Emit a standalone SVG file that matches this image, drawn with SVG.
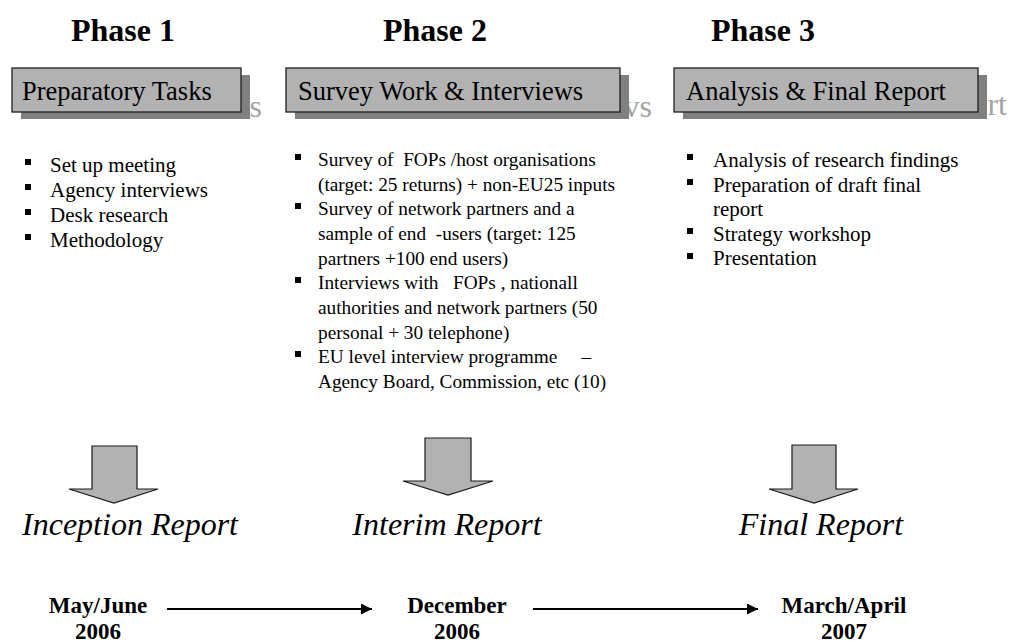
<svg xmlns="http://www.w3.org/2000/svg" width="1010" height="642" viewBox="0 0 1010 642">
  <style>
    text { font-family: "Liberation Serif", "Times New Roman", serif; fill: #000; white-space: pre; }
    .phase { font-size: 32px; font-weight: bold; text-anchor: middle; }
    .box { fill: #b2b2b2; stroke: #1f1f1f; stroke-width: 1.3; }
    .shadow { fill: #808080; }
    .boxlabel { font-size: 26.5px; }
    .ghost { font-size: 32px; fill: #a3a3a3; text-anchor: end; }
    .item { font-size: 21px; }
    .item2 { font-size: 19.3px; }
    .bullet { fill: #000; }
    .block { fill: #b2b2b2; stroke: #1a1a1a; stroke-width: 1.2; stroke-linejoin: miter; }
    .report { font-size: 32px; font-style: italic; text-anchor: middle; }
    .date { font-size: 23px; font-weight: bold; text-anchor: middle; }
    .timeline { stroke: #000; stroke-width: 2; fill: none; }
  </style>
  <defs>
    <marker id="head" viewBox="0 0 10 10" refX="10" refY="5" markerWidth="5.5" markerHeight="5.5" orient="auto" markerUnits="strokeWidth">
      <path d="M0,0 L10,5 L0,10 z" fill="#000"/>
    </marker>
  </defs>

  <!-- Phase 1 -->
  <g id="phase1">
    <text class="phase" x="123" y="41">Phase 1</text>
    <text class="ghost" x="262" y="117">s</text>
    <rect class="shadow" x="21" y="75" width="229" height="44"/>
    <rect class="box" x="12" y="68" width="229" height="44"/>
    <text class="boxlabel" x="22" y="100">Preparatory Tasks</text>
    <g class="bullet">
      <rect x="25" y="159" width="6" height="6"/>
      <rect x="25" y="184" width="6" height="6"/>
      <rect x="25" y="209" width="6" height="6"/>
      <rect x="25" y="234" width="6" height="6"/>
    </g>
    <text class="item" x="50" y="172">Set up meeting</text>
    <text class="item" x="50" y="197">Agency interviews</text>
    <text class="item" x="50" y="222">Desk research</text>
    <text class="item" x="50" y="247">Methodology</text>
  </g>

  <!-- Phase 2 -->
  <g id="phase2">
    <text class="phase" x="435" y="41">Phase 2</text>
    <text class="ghost" x="652" y="117">vs</text>
    <rect class="shadow" x="295" y="75" width="334" height="44"/>
    <rect class="box" x="286" y="68" width="334" height="44"/>
    <text class="boxlabel" x="298" y="100">Survey Work &amp; Interviews</text>
    <g class="bullet">
      <rect x="295" y="154" width="6" height="6"/>
      <rect x="295" y="203" width="6" height="6"/>
      <rect x="295" y="277" width="6" height="6"/>
      <rect x="295" y="351" width="6" height="6"/>
    </g>
    <text class="item2" x="318" y="166">Survey of  FOPs /host organisations</text>
    <text class="item2" x="318" y="191">(target: 25 returns) + non-EU25 inputs</text>
    <text class="item2" x="318" y="215">Survey of network partners and a</text>
    <text class="item2" x="318" y="240">sample of end  -users (target: 125</text>
    <text class="item2" x="318" y="265">partners +100 end users)</text>
    <text class="item2" x="318" y="289">Interviews with   FOPs , nationall</text>
    <text class="item2" x="318" y="314">authorities and network partners (50</text>
    <text class="item2" x="318" y="339">personal + 30 telephone)</text>
    <text class="item2" x="318" y="363">EU level interview programme     –</text>
    <text class="item2" x="318" y="388">Agency Board, Commission, etc (10)</text>
  </g>

  <!-- Phase 3 -->
  <g id="phase3">
    <text class="phase" x="763" y="41">Phase 3</text>
    <text class="ghost" x="1007" y="115">rt</text>
    <rect class="shadow" x="683" y="75" width="304" height="44"/>
    <rect class="box" x="674" y="68" width="304" height="44"/>
    <text class="boxlabel" x="686" y="100">Analysis &amp; Final Report</text>
    <g class="bullet">
      <rect x="687" y="154" width="6" height="6"/>
      <rect x="687" y="179" width="6" height="6"/>
      <rect x="687" y="228" width="6" height="6"/>
      <rect x="687" y="253" width="6" height="6"/>
    </g>
    <text class="item" x="713" y="167">Analysis of research findings</text>
    <text class="item" x="713" y="192">Preparation of draft final</text>
    <text class="item" x="713" y="216">report</text>
    <text class="item" x="713" y="241">Strategy workshop</text>
    <text class="item" x="713" y="265">Presentation</text>
  </g>

  <!-- Deliverables -->
  <g id="inception">
    <path class="block" d="M92,446 H137 V489 H158 L114,503 L69,489 H92 Z"/>
    <text class="report" x="130" y="535">Inception Report</text>
  </g>
  <g id="interim">
    <path class="block" d="M425,438 H471 V481 H493 L448,495 L403,481 H425 Z"/>
    <text class="report" x="447" y="535">Interim Report</text>
  </g>
  <g id="final">
    <path class="block" d="M792,445 H836 V489 H858 L814,503 L769,489 H792 Z"/>
    <text class="report" x="821" y="535">Final Report</text>
  </g>

  <!-- Milestones -->
  <g id="may2006">
    <text class="date" x="98" y="613">May/June</text>
    <text class="date" x="98" y="639">2006</text>
  </g>
  <g id="dec2006">
    <text class="date" x="457" y="613">December</text>
    <text class="date" x="457" y="639">2006</text>
  </g>
  <g id="mar2007">
    <text class="date" x="844" y="613">March/April</text>
    <text class="date" x="844" y="639">2007</text>
  </g>

  <!-- Timeline connectors -->
  <g id="connectors">
    <line class="timeline" x1="167" y1="609" x2="372" y2="609" marker-end="url(#head)"/>
    <line class="timeline" x1="533" y1="609" x2="758" y2="609" marker-end="url(#head)"/>
  </g>
</svg>
